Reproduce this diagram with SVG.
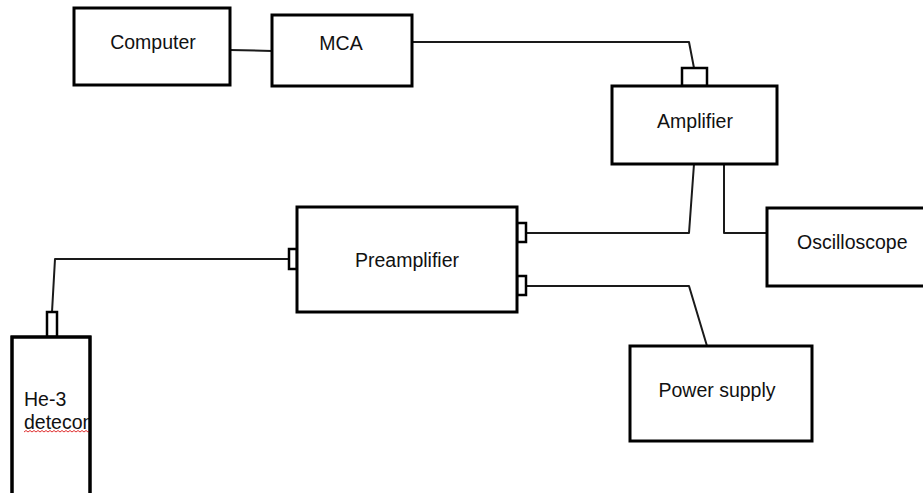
<svg xmlns="http://www.w3.org/2000/svg" width="923" height="493" viewBox="0 0 923 493">
  <style>
    .box { fill: #ffffff; stroke: #000000; stroke-width: 3; }
    .port { fill: #ffffff; stroke: #000000; stroke-width: 2.5; }
    .wire { fill: none; stroke: #1a1a1a; stroke-width: 2; stroke-linejoin: round; }
    .label { font-family: "Liberation Sans", Arial, sans-serif; font-size: 19.5px; fill: #111111; }
    .mid { text-anchor: middle; }
  </style>
  <defs>
    <clipPath id="detector-clip">
      <rect x="12" y="337" width="78" height="160"/>
    </clipPath>
  </defs>

  <rect width="923" height="493" fill="#ffffff"/>

  <!-- cables -->
  <g id="connectors">
    <path class="wire" d="M230,50 L272,51"/>
    <path class="wire" d="M412,42 L689,42 L694,68"/>
    <path class="wire" d="M694,164 L689,233 L526,233"/>
    <path class="wire" d="M724,164 L724,233 L767,233"/>
    <path class="wire" d="M526,286 L689,286 L707,346"/>
    <path class="wire" d="M52,312 L55,259 L289,259"/>
  </g>

  <g id="computer">
    <rect class="box" x="74" y="8" width="156" height="77"/>
    <text class="label mid" x="153" y="49">Computer</text>
  </g>

  <g id="mca">
    <rect class="box" x="272" y="15" width="140" height="71"/>
    <text class="label mid" x="341" y="50">MCA</text>
  </g>

  <g id="amplifier">
    <rect class="port" x="682" y="68" width="25" height="18"/>
    <rect class="box" x="612" y="86" width="165" height="78"/>
    <text class="label mid" x="695" y="128">Amplifier</text>
  </g>

  <g id="preamplifier">
    <rect class="port" x="289" y="249" width="8" height="20"/>
    <rect class="port" x="517" y="223" width="9" height="19"/>
    <rect class="port" x="517" y="276" width="9" height="19"/>
    <rect class="box" x="297" y="207" width="220" height="105"/>
    <text class="label mid" x="407" y="267">Preamplifier</text>
  </g>

  <g id="oscilloscope">
    <rect class="box" x="767" y="208" width="170" height="78"/>
    <text class="label" x="797" y="249">Oscilloscope</text>
  </g>

  <g id="power-supply">
    <rect class="box" x="630" y="346" width="182" height="95"/>
    <text class="label mid" x="717" y="397">Power supply</text>
  </g>

  <g id="he3-detector">
    <rect class="port" x="47" y="312" width="10" height="25"/>
    <rect class="box" x="12" y="337" width="78" height="170"/>
    <g clip-path="url(#detector-clip)">
      <text class="label" x="24" y="406">He-3</text>
      <text class="label" x="24" y="429">detecon</text>
      <!-- spell-check squiggle -->
      <path d="M24,432 l2,-1.5 l2,1.5 l2,-1.5 l2,1.5 l2,-1.5 l2,1.5 l2,-1.5 l2,1.5 l2,-1.5 l2,1.5 l2,-1.5 l2,1.5 l2,-1.5 l2,1.5 l2,-1.5 l2,1.5 l2,-1.5 l2,1.5 l2,-1.5 l2,1.5 l2,-1.5 l2,1.5 l2,-1.5 l2,1.5 l2,-1.5 l2,1.5 l2,-1.5 l2,1.5 l2,-1.5 l2,1.5 l2,-1.5 l2,1.5 l2,-1.5" fill="none" stroke="#e03030" stroke-width="1"/>
    </g>
    <rect x="12" y="337" width="78" height="170" fill="none" stroke="#000" stroke-width="3"/>
  </g>
</svg>
